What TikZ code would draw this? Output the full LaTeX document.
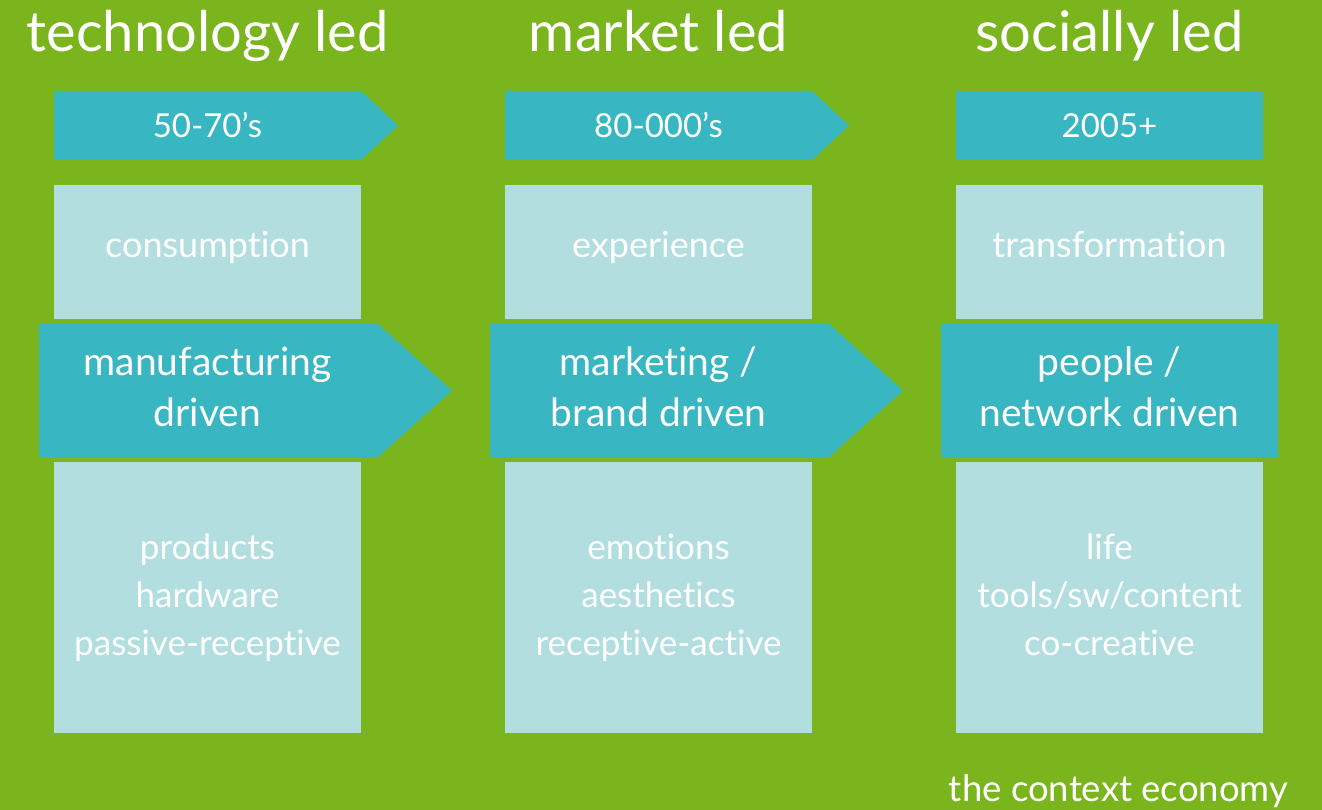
\documentclass[tikz,border=0pt]{standalone}
\usepackage{fontspec}
\setmainfont{Lato}[Ligatures=NoCommon]
\definecolor{bggreen}{RGB}{123,181,30}
\definecolor{myteal}{RGB}{56,183,195}
\definecolor{pale}{RGB}{178,222,223}
\begin{document}
\begin{tikzpicture}[x=1pt,y=-1pt,
  txt/.style={text=white, inner sep=0pt, anchor=base},
  title/.style={txt, font=\fontsize{56}{60}\selectfont},
  period/.style={txt, font=\fontsize{33}{38}\selectfont},
  boxtxt/.style={txt, font=\fontsize{36}{40}\selectfont},
  midtxt/.style={txt, font=\fontsize{39}{45}\selectfont},
  bottxt/.style={txt, font=\fontsize{35}{40}\selectfont},
  tealfill/.style={fill=myteal},
  palefill/.style={fill=pale}]
\fill[bggreen] (0,0) rectangle (1322,810);
\useasboundingbox (0,0) rectangle (1322,810);
% shapes
\foreach \dx in {0,451}{
  \fill[tealfill] (54+\dx,91) -- (361+\dx,91) -- (398+\dx,125.5) -- (361+\dx,160) -- (54+\dx,160) -- cycle;
  \fill[tealfill] (39+\dx,324) -- (378+\dx,324) -- (452+\dx,390.5) -- (378+\dx,457) -- (39+\dx,457) -- cycle;
}
\fill[tealfill] (956,91) rectangle (1263,160);
\fill[tealfill] (941,324) rectangle (1278,457);
\foreach \dx in {0,451,902}{
  \fill[palefill] (54+\dx,185) rectangle (361+\dx,319);
  \fill[palefill] (54+\dx,462) rectangle (361+\dx,733);
}
% titles
\node[title] (t1) at (207.5,52) {technology led};
\node[title] (t2) at (658.5,52) {market led};
\node[title] (t3) at (1109.5,52) {socially led};
% periods
\node[period] (p1) at (207.5,138) {50-70’s};
\node[period] (p2) at (658.5,138) {80-000’s};
\node[period] (p3) at (1109.5,138) {2005+};
% upper boxes
\node[boxtxt] (a1) at (207.5,258) {consumption};
\node[boxtxt] (a2) at (658.5,258) {experience};
\node[boxtxt] (a3) at (1109.5,258) {transformation};
% middle arrows
\node[midtxt] (m1a) at (207.5,375) {manufacturing};
\node[midtxt] (m1b) at (207.5,426) {driven};
\node[midtxt] (m2a) at (658.5,375) {marketing /};
\node[midtxt] (m2b) at (658.5,426) {brand driven};
\node[midtxt] (m3a) at (1109.5,375) {people /};
\node[midtxt] (m3b) at (1109.5,426) {network driven};
% lower boxes
\node[bottxt] (b1a) at (207.5,559) {products};
\node[bottxt] (b1b) at (207.5,607) {hardware};
\node[bottxt] (b1c) at (207.5,655) {passive-receptive};
\node[bottxt] (b2a) at (658.5,559) {emotions};
\node[bottxt] (b2b) at (658.5,607) {aesthetics};
\node[bottxt] (b2c) at (658.5,655) {receptive-active};
\node[bottxt] (b3a) at (1109.5,559) {life};
\node[bottxt] (b3b) at (1109.5,607) {tools/sw/content};
\node[bottxt] (b3c) at (1109.5,655) {co-creative};
% footer
\node[txt, font=\fontsize{36.5}{40}\selectfont] (ce) at (1118.5,801) {the context economy};
\end{tikzpicture}
\end{document}
